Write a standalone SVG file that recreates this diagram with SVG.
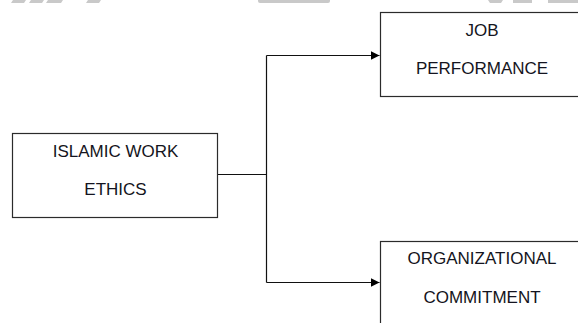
<svg xmlns="http://www.w3.org/2000/svg" width="578" height="323" viewBox="0 0 578 323">
  <style>
    .box { fill: #ffffff; stroke: #2b2b2b; stroke-width: 1.2; }
    .lbl { font-family: "Liberation Sans", Arial, sans-serif; font-size: 17px; fill: #141420; text-anchor: middle; }
    .wire { fill: none; stroke: #111111; stroke-width: 1.2; }
    .wm { fill: #c9c9c9; }
  </style>
  <defs>
    <marker id="arrow" viewBox="0 0 10 10" refX="10" refY="5" markerWidth="9" markerHeight="9" markerUnits="userSpaceOnUse" orient="auto">
      <path d="M0,0 L10,5 L0,10 Z" fill="#000000"/>
    </marker>
  </defs>
  <rect width="578" height="323" fill="#ffffff"/>
  <g id="watermark">
    <polygon class="wm" points="13,0 26,0 24,3 11,3"/>
    <polygon class="wm" points="31,0 44,0 42,3 29,3"/>
    <polygon class="wm" points="48,0 63,0 61,3 46,3"/>
    <polygon class="wm" points="88,0 101,0 99,3 86,3"/>
    <path class="wm" d="M258,0 H330 V1 Q330,3 328,3 H260 Q258,3 258,1 Z"/>
    <path class="wm" d="M488,0 H503 L501,3 H490 Z"/>
    <rect class="wm" x="513" y="0" width="19" height="3"/>
    <rect class="wm" x="548" y="0" width="30" height="3"/>
  </g>
  <g id="connectors">
    <path class="wire" d="M217.5,174.5 H266.5"/>
    <path class="wire" d="M266.5,55.5 V282.5"/>
    <path class="wire" d="M266.5,55.5 H379.5" marker-end="url(#arrow)"/>
    <path class="wire" d="M266.5,282.5 H379.5" marker-end="url(#arrow)"/>
  </g>
  <g id="islamic-work-ethics">
    <rect class="box" x="12.5" y="133.5" width="205" height="84"/>
    <text class="lbl" x="115.5" y="157">ISLAMIC WORK</text>
    <text class="lbl" x="115.5" y="195">ETHICS</text>
  </g>
  <g id="job-performance">
    <rect class="box" x="380.5" y="12.5" width="210" height="84"/>
    <text class="lbl" x="482" y="36">JOB</text>
    <text class="lbl" x="482" y="74">PERFORMANCE</text>
  </g>
  <g id="organizational-commitment">
    <rect class="box" x="380.5" y="241.5" width="210" height="90"/>
    <text class="lbl" x="482" y="264">ORGANIZATIONAL</text>
    <text class="lbl" x="482" y="302.5">COMMITMENT</text>
  </g>
</svg>
